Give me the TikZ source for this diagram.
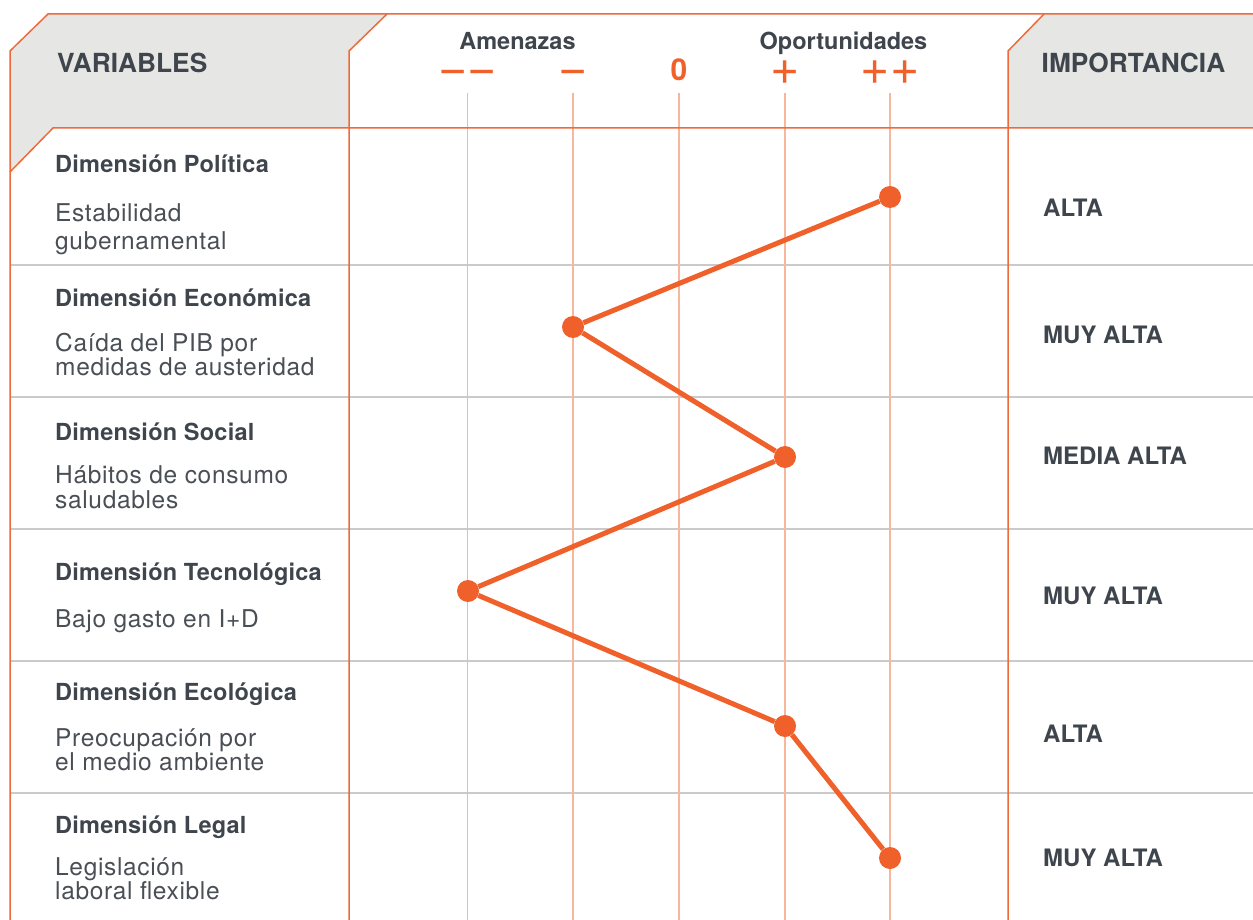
\documentclass[tikz,border=0pt]{standalone}
\usepackage{fontspec}
\setmainfont{TeX Gyre Heros}
\definecolor{org}{HTML}{F0602A}
\definecolor{orgline}{HTML}{EE6A3A}
\definecolor{gridc}{HTML}{F6B79D}
\definecolor{hdrgray}{HTML}{E6E7E5}
\definecolor{rowgray}{HTML}{CACACA}
\definecolor{txt}{HTML}{3F454D}
\definecolor{txtl}{HTML}{4A4F56}
\begin{document}
\begin{tikzpicture}[x=1pt,y=-1pt,
  frame/.style={draw=orgline,line width=1.5pt},
  rowline/.style={draw=rowgray,line width=1.5pt},
  gridline/.style={draw=gridc,line width=1.2pt},
  hdrfill/.style={fill=hdrgray},
  hdrtext/.style={anchor=base west,inner sep=0pt,text=txt,font=\fontsize{26.3}{30}\selectfont\bfseries},
  axtitle/.style={anchor=base,inner sep=0pt,text=txt,font=\fontsize{23.5}{27}\selectfont\bfseries},
  sym/.style={anchor=base,inner sep=0pt,text height=25pt,text depth=0pt,text=org,font=\fontsize{50}{55}\selectfont},
  zero/.style={anchor=base,inner sep=0pt,text=org,font=\fontsize{30}{34}\selectfont\bfseries},
  dimtitle/.style={anchor=base west,inner sep=0pt,text=txt,font=\fontsize{23.5}{27}\selectfont\bfseries\addfontfeatures{LetterSpace=1}},
  body/.style={anchor=base west,inner sep=0pt,text=txtl,font=\fontsize{24.5}{28}\selectfont\addfontfeatures{LetterSpace=2.7}},
  level/.style={anchor=base west,inner sep=0pt,text=txt,font=\fontsize{24}{28}\selectfont\bfseries},
  dot/.style={circle,fill=org,minimum size=22pt,inner sep=0pt},
  trend/.style={draw=org,line width=5pt}]
\useasboundingbox (0,0) rectangle (1253,920);
% header fills
\fill[hdrfill] (48,14) -- (387,14) -- (349,51) -- (349,128) -- (53,128) -- (10,172) -- (10,51) -- cycle;
\fill[hdrfill] (1044,14) -- (1253,14) -- (1253,128) -- (1008,128) -- (1008,51) -- cycle;
% row dividers
\foreach \yy in {265,397,529,661,793} \draw[rowline] (10,\yy) -- (1253,\yy);
% grid lines
\foreach \xx in {467.5,573,679,785,890} \draw[gridline] (\xx,93) -- (\xx,920);
% frame
\draw[frame] (1253,14) -- (48,14) -- (10,51) -- (10,920);
\draw[frame] (387,14) -- (349,51) -- (349,920);
\draw[frame] (1044,14) -- (1008,51) -- (1008,920);
\draw[frame] (1253,128) -- (53,128) -- (10,172);
% headers
\node[hdrtext] (hvar) at (57,73) {VARIABLES};
\node[hdrtext] (himp) at (1041.5,73) {IMPORTANCIA};
\node[axtitle] (amen) at (517.5,50) {Amenazas};
\node[axtitle] (opor) at (843.5,50) {Oportunidades};
\node[sym] (smm) at (467.5,85) {−−};
\node[sym] (sm) at (573,85) {−};
\node[zero] (s0) at (679,81) {0};
\node[sym] (sp) at (785,85) {+};
\node[sym] (spp) at (890,85) {++};
% left column
\node[dimtitle] (d1) at (55,173) {Dimensión Política};
\node[body] (b1a) at (55,222) {Estabilidad};
\node[body] (b1b) at (55,250) {gubernamental};
\node[dimtitle] (d2) at (55,306) {Dimensión Económica};
\node[body] (b2a) at (55,351) {Caída del PIB por};
\node[body] (b2b) at (55,375) {medidas de austeridad};
\node[dimtitle] (d3) at (55,440) {Dimensión Social};
\node[body] (b3a) at (55,483) {Hábitos de consumo};
\node[body] (b3b) at (55,508) {saludables};
\node[dimtitle] (d4) at (55,580) {Dimensión Tecnológica};
\node[body] (b4a) at (55,627) {Bajo gasto en I+D};
\node[dimtitle] (d5) at (55,700) {Dimensión Ecológica};
\node[body] (b5a) at (55,746) {Preocupación por};
\node[body] (b5b) at (55,770) {el medio ambiente};
\node[dimtitle] (d6) at (55,833) {Dimensión Legal};
\node[body] (b6a) at (55,875) {Legislación};
\node[body] (b6b) at (55,899) {laboral flexible};
% right column
\node[level] (l1) at (1043,216.5) {ALTA};
\node[level] (l2) at (1043,343.5) {MUY ALTA};
\node[level] (l3) at (1043,464.5) {MEDIA ALTA};
\node[level] (l4) at (1043,604.5) {MUY ALTA};
\node[level] (l5) at (1043,742.5) {ALTA};
\node[level] (l6) at (1043,866.5) {MUY ALTA};
% profile
\node[dot] (p1) at (890,197) {};
\node[dot] (p2) at (573,327) {};
\node[dot] (p3) at (785,457) {};
\node[dot] (p4) at (468,591) {};
\node[dot] (p5) at (785,726) {};
\node[dot] (p6) at (890,858) {};
\draw[trend] (p1) -- (p2) -- (p3) -- (p4) -- (p5) -- (p6);
\end{tikzpicture}
\end{document}
